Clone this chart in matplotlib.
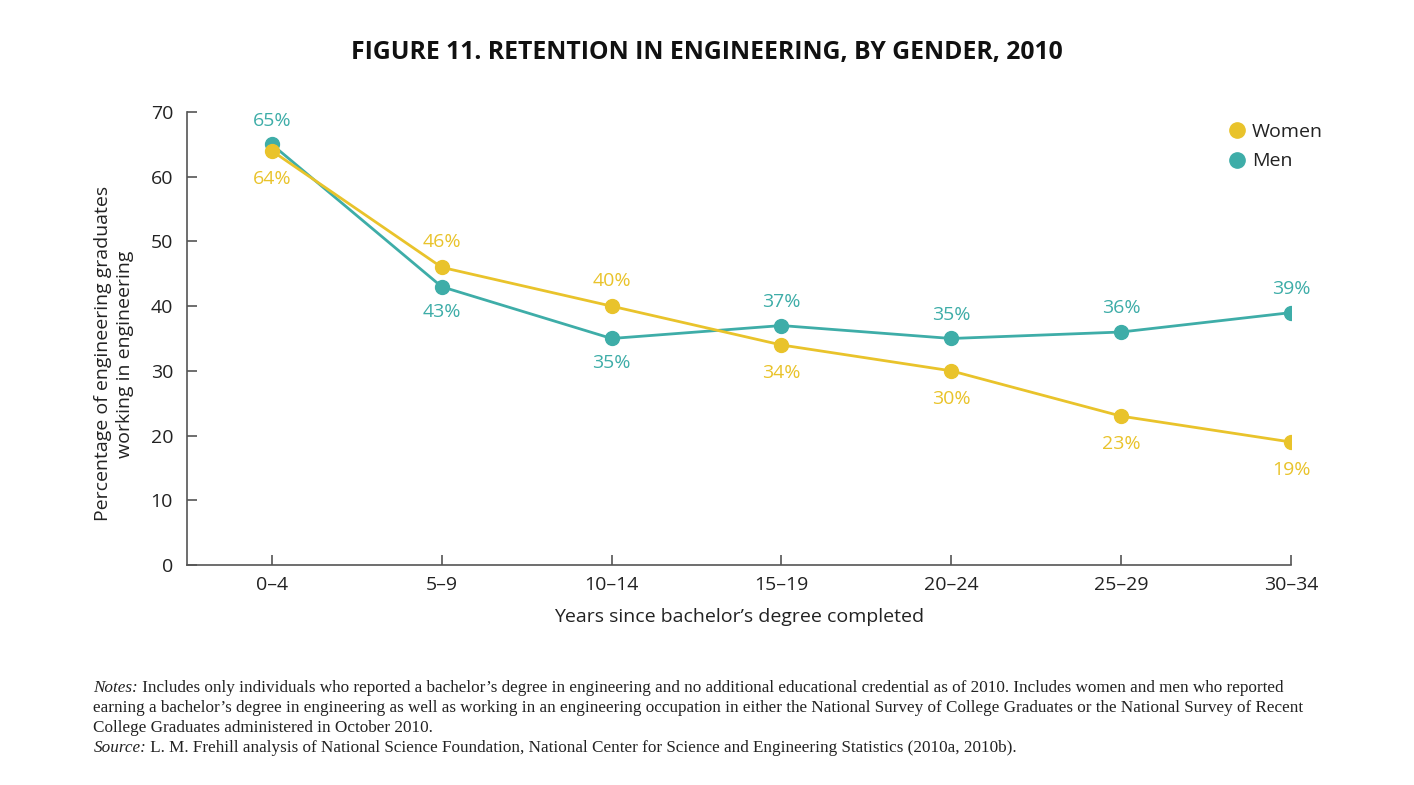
import matplotlib
matplotlib.use("Agg")
import matplotlib.pyplot as plt

categories = ["0\u20134", "5\u20139", "10\u201314", "15\u201319", "20\u201324", "25\u201329", "30\u201334"]
women = [64, 46, 40, 34, 30, 23, 19]
men = [65, 43, 35, 37, 35, 36, 39]
yticks = [0, 10, 20, 30, 40, 50, 60, 70]

# label placement: +1 above, -1 below
women_pos = [-1, 1, 1, -1, -1, -1, -1]
men_pos = [1, -1, -1, 1, 1, 1, 1]

WOMEN_C = "#E9C32B"
MEN_C = "#3EADA8"
TXT = "#222222"
AX_C = "#555555"

plt.rcParams['font.family'] = ['Open Sans', 'DejaVu Sans']

fig = plt.figure(figsize=(14.14, 7.85), dpi=100)
ax = fig.add_axes([0.1322, 0.2803, 0.7808, 0.577])

x = list(range(len(categories)))
ax.plot(x, women, color=WOMEN_C, lw=2, marker='o', ms=10, zorder=3, label="Women")
ax.plot(x, men, color=MEN_C, lw=2, marker='o', ms=10, zorder=2, label="Men")

for xi, v, p in zip(x, women, women_pos):
    ax.annotate(f"{v}%", (xi, v), xytext=(0, 18 * p - (2 if p < 0 else 0)), textcoords="offset points",
                ha="center", va="center", color=WOMEN_C, fontsize=14)
for xi, v, p in zip(x, men, men_pos):
    ax.annotate(f"{v}%", (xi, v), xytext=(0, 17 * p - (1 if p < 0 else 0)), textcoords="offset points",
                ha="center", va="center", color=MEN_C, fontsize=14)

ax.set_xlim(-0.5, 6)
ax.set_ylim(0, 70)
ax.set_yticks(yticks)
ax.set_xticks(x)
ax.set_xticklabels(categories)
ax.tick_params(axis='both', colors=AX_C, labelcolor=TXT, labelsize=14, length=7, width=1.2)
ax.tick_params(axis='y', direction='in', pad=10)
ax.tick_params(axis='x', direction='in', pad=8)
for s in ["top", "right"]:
    ax.spines[s].set_visible(False)
for s in ["left", "bottom"]:
    ax.spines[s].set_color(AX_C)
    ax.spines[s].set_linewidth(1.2)

ax.set_xlabel("Years since bachelor\u2019s degree completed", fontsize=14, color=TXT, labelpad=10)
ax.set_ylabel("Percentage of engineering graduates\nworking in engineering", fontsize=14, color=TXT,
              linespacing=1.3, va="center")
ax.yaxis.set_label_coords(-0.066, 0.466)

leg = ax.legend(loc="upper right", bbox_to_anchor=(1.045, 1.015), frameon=False, fontsize=14,
                handlelength=0.8, handletextpad=0.4, labelspacing=0.6)
for line in leg.get_lines():
    line.set_linestyle("none")
    line.set_markersize(11)
for t in leg.get_texts():
    t.set_color(TXT)

fig.text(0.5, 0.933, "FIGURE 11. RETENTION IN ENGINEERING, BY GENDER, 2010", ha="center", va="center",
         fontsize=17.8, fontweight="bold", color="#111111", fontstretch="condensed")

notes_family = ['Liberation Serif', 'DejaVu Serif']
y0 = 0.124
lines = [
    ("Notes:", " Includes only individuals who reported a bachelor\u2019s degree in engineering and no additional educational credential as of 2010. Includes women and men who reported"),
    (None, "earning a bachelor\u2019s degree in engineering as well as working in an engineering occupation in either the National Survey of College Graduates or the National Survey of Recent"),
    (None, "College Graduates administered in October 2010."),
    ("Source:", " L. M. Frehill analysis of National Science Foundation, National Center for Science and Engineering Statistics (2010a, 2010b)."),
]
dy = 0.0258
fig.canvas.draw()
renderer = fig.canvas.get_renderer()
for i, (lead, rest) in enumerate(lines):
    yy = y0 - i * dy
    xx = 0.066
    if lead:
        t = fig.text(xx, yy, lead, ha="left", va="center", fontsize=12.3, style="italic",
                     family=notes_family, color=TXT)
        bb = t.get_window_extent(renderer=renderer)
        xx = bb.x1 / fig.bbox.width
    fig.text(xx, yy, rest, ha="left", va="center", fontsize=12.3, family=notes_family, color=TXT)

fig.savefig("out.png", dpi=100, facecolor="white")
